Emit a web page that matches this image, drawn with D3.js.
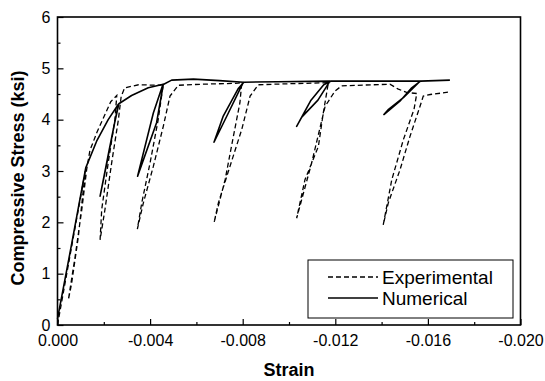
<!DOCTYPE html>
<html>
<head>
<meta charset="utf-8">
<script src="https://cdn.jsdelivr.net/npm/d3@7"></script>
<style>
  body { margin: 0; background: #fff; }
  svg { display: block; }
  text { font-family: "Liberation Sans", Arial, sans-serif; fill: #000; }
</style>
</head>
<body>
<div id="chart"></div>
<script>
// tick values
const xTicks = [0, -0.004, -0.008, -0.012, -0.016, -0.020];
const xMinor = [-0.002, -0.006, -0.010, -0.014, -0.018];
const yTicks = [0, 1, 2, 3, 4, 5, 6];
const yMinor = [0.5, 1.5, 2.5, 3.5, 4.5, 5.5];

// Numerical (solid) - envelope with unload/reload loops
const numStrain = [0, -0.0006, -0.00122, -0.00169, -0.00219, -0.00263,
  -0.00225, -0.00184, -0.00215, -0.00245, -0.00265,
  -0.0032, -0.00392, -0.00457,
  -0.00428, -0.00346, -0.00414, -0.00455,
  -0.00493, -0.00587, -0.0070, -0.00803,
  -0.00738, -0.00676, -0.00716, -0.0078, -0.00805,
  -0.0095, -0.01177,
  -0.01125, -0.01055, -0.01033, -0.01095, -0.0115, -0.0118,
  -0.0140, -0.01566,
  -0.01494, -0.0143, -0.0141, -0.01479, -0.0153, -0.01568,
  -0.01695];
const numStress = [0.12, 1.55, 3.06, 3.58, 4.0, 4.30,
  3.45, 2.51, 3.2, 3.9, 4.31,
  4.47, 4.62, 4.69,
  3.94, 2.90, 4.13, 4.68,
  4.77, 4.79, 4.76, 4.73,
  4.13, 3.56, 4.07, 4.6, 4.73,
  4.74, 4.75,
  4.38, 4.05, 3.87, 4.38, 4.68, 4.75,
  4.75, 4.75,
  4.43, 4.2, 4.10, 4.36, 4.62, 4.75,
  4.77];

// Experimental (dashed)
const expStrain = [0, -0.0004, -0.0012,
  -0.0009, -0.00061, -0.00047,
  -0.00076, -0.00105, -0.00126, -0.0014, -0.0017, -0.00205, -0.0023, -0.00256,
  -0.00248, -0.00219, -0.00191, -0.00184,
  -0.00205, -0.00234, -0.00263, -0.00275, -0.0029, -0.0035, -0.0044, -0.00457,
  -0.00435, -0.0040, -0.00364, -0.00345,
  -0.00371, -0.00414, -0.00457, -0.00486, -0.00522, -0.0062, -0.0078, -0.00796,
  -0.00788, -0.0076, -0.00724, -0.00676,
  -0.00695, -0.00745, -0.00796, -0.00832, -0.00867, -0.0100, -0.0117,
  -0.01163, -0.01148, -0.01127, -0.01069, -0.01033,
  -0.01098, -0.01156, -0.01199, -0.01228, -0.01436, -0.0147, -0.01508, -0.01552,
  -0.0154, -0.01494, -0.01444, -0.01407,
  -0.01429, -0.0148, -0.01523, -0.01566, -0.0158, -0.0161, -0.01695];
const expStress = [0, 1.0, 3.0,
  1.72, 0.81, 0.49,
  1.33, 2.25, 3.03, 3.4, 3.75, 4.1, 4.35, 4.47,
  4.0, 3.16, 2.25, 1.66,
  2.25, 3.16, 4.0, 4.45, 4.62, 4.68, 4.67, 4.69,
  4.0, 3.16, 2.38, 1.87,
  2.38, 3.09, 3.87, 4.46, 4.67, 4.69, 4.71, 4.72,
  4.33, 3.68, 2.83, 1.99,
  2.38, 3.09, 3.81, 4.46, 4.68, 4.70, 4.72,
  4.53, 4.13, 3.48, 2.83, 2.08,
  3.16, 4.26, 4.56, 4.66, 4.69, 4.6, 4.53, 4.51,
  4.2, 3.61, 2.83, 1.95,
  2.38, 3.03, 3.68, 4.26, 4.46, 4.49, 4.54];

const seriesNames = ["Experimental", "Numerical"];

const width = 545, height = 381;
const margin = { left: 57.5, right: 24.5, top: 17, bottom: 56 };

const svg = d3.select("#chart").append("svg")
  .attr("width", width)
  .attr("height", height);

const x = d3.scaleLinear().domain([0, -0.020]).range([margin.left, width - margin.right]);
const y = d3.scaleLinear().domain([0, 6]).range([height - margin.bottom, margin.top]);

const line = d3.line().x(d => x(d[0])).y(d => y(d[1]));

const numData = numStrain.map((s, i) => [s, numStress[i]]);
const expData = expStrain.map((s, i) => [s, expStress[i]]);

// data lines
svg.append("path")
  .datum(expData)
  .attr("d", line)
  .attr("fill", "none")
  .attr("stroke", "#000")
  .attr("stroke-width", 1.3)
  .attr("stroke-dasharray", "5,3");

svg.append("path")
  .datum(numData)
  .attr("d", line)
  .attr("fill", "none")
  .attr("stroke", "#000")
  .attr("stroke-width", 1.6)
  .attr("stroke-linejoin", "round");

// axes, ticks pointing inward
const xAxis = svg.append("g")
  .attr("transform", `translate(0,${y(0)})`)
  .call(d3.axisBottom(x).tickValues(xTicks).tickSizeInner(-6).tickSizeOuter(0)
    .tickPadding(10).tickFormat(d => d === 0 ? "0.000" : d.toFixed(3)));
svg.append("g")
  .attr("transform", `translate(0,${y(0)})`)
  .call(d3.axisBottom(x).tickValues(xMinor).tickSizeInner(-3).tickSizeOuter(0).tickFormat(""));

const yAxis = svg.append("g")
  .attr("transform", `translate(${x(0)},0)`)
  .call(d3.axisLeft(y).tickValues(yTicks).tickSizeInner(-6).tickSizeOuter(0)
    .tickPadding(7).tickFormat(d3.format("d")));
svg.append("g")
  .attr("transform", `translate(${x(0)},0)`)
  .call(d3.axisLeft(y).tickValues(yMinor).tickSizeInner(-3).tickSizeOuter(0).tickFormat(""));

svg.selectAll(".domain").remove();
svg.selectAll(".tick line").attr("stroke", "#000").attr("stroke-width", 1.2);
xAxis.selectAll("text").style("font-size", "16px");
yAxis.selectAll("text").style("font-size", "16px");

// frame
svg.append("rect")
  .attr("x", x(0)).attr("y", y(6))
  .attr("width", x(-0.020) - x(0))
  .attr("height", y(0) - y(6))
  .attr("fill", "none")
  .attr("stroke", "#000")
  .attr("stroke-width", 1.6);

// axis titles
svg.append("text")
  .attr("x", (x(0) + x(-0.020)) / 2)
  .attr("y", 376)
  .attr("text-anchor", "middle")
  .style("font-size", "18px")
  .style("font-weight", "bold")
  .text("Strain");

svg.append("text")
  .attr("transform", `translate(24,178) rotate(-90)`)
  .attr("text-anchor", "middle")
  .style("font-size", "18px")
  .style("font-weight", "bold")
  .text("Compressive Stress (ksi)");

// legend
const legend = svg.append("g");
legend.append("rect")
  .attr("x", 308).attr("y", 260)
  .attr("width", 205).attr("height", 58)
  .attr("fill", "#fff")
  .attr("stroke", "#000")
  .attr("stroke-width", 1);

seriesNames.forEach((name, i) => {
  const ly = 277 + i * 21;
  legend.append("line")
    .attr("x1", 328).attr("x2", 378)
    .attr("y1", ly).attr("y2", ly)
    .attr("stroke", "#000")
    .attr("stroke-width", i === 0 ? 1.3 : 1.5)
    .attr("stroke-dasharray", i === 0 ? "5,3" : null);
  legend.append("text")
    .attr("x", 382)
    .attr("y", ly + 7)
    .style("font-size", "19px")
    .text(name);
});
</script>
</body>
</html>
